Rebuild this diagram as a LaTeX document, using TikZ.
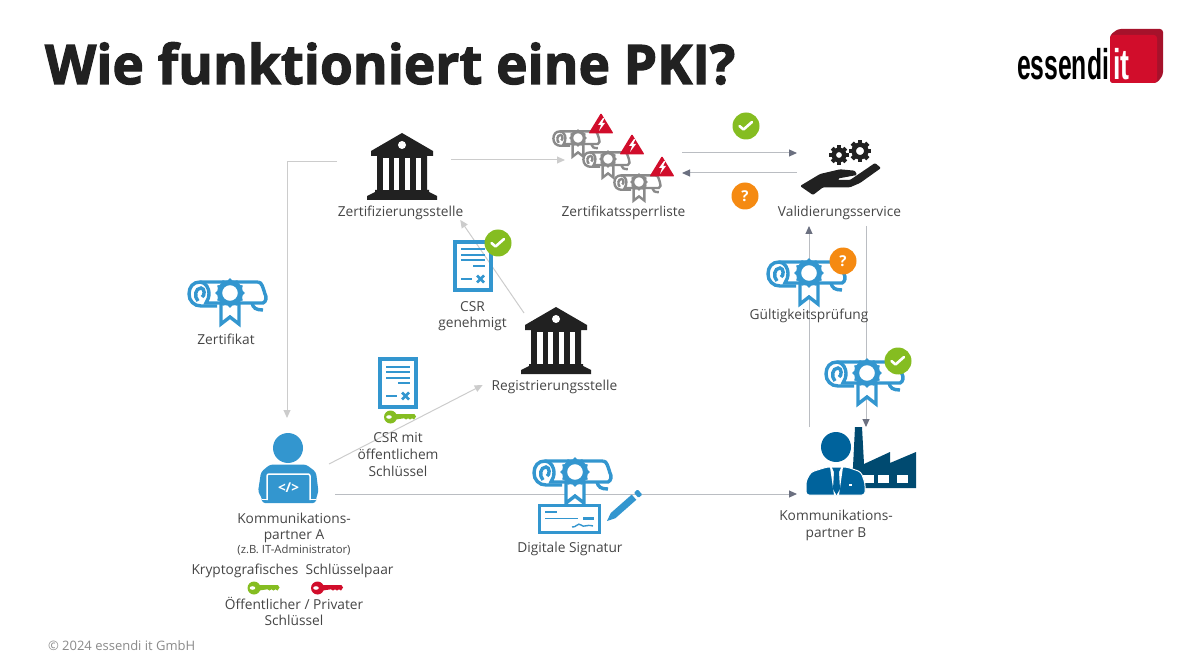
\documentclass[tikz,border=0pt]{standalone}
\usepackage{fontspec}
\setmainfont{Open Sans}
\newfontfamily\titlefont[FakeBold=2.2]{Open Sans Bold}
\newfontfamily\logofont{Liberation Sans}
\usepackage{tikz}
\usetikzlibrary{arrows.meta,backgrounds,positioning}
\usepackage{xcolor}
\definecolor{itblue}{rgb}{0.20, 0.59, 0.81}
\definecolor{bossblue}{rgb}{0.00, 0.39, 0.61}
\definecolor{plantblue}{rgb}{0.00, 0.29, 0.44}
\definecolor{okgreen}{rgb}{0.52, 0.74, 0.13}
\definecolor{askorange}{rgb}{0.96, 0.54, 0.07}
\definecolor{alertred}{rgb}{0.82, 0.05, 0.17}
\definecolor{darkred}{rgb}{0.65, 0.07, 0.17}
\definecolor{iconblack}{rgb}{0.13, 0.13, 0.13}
\definecolor{revokegrey}{rgb}{0.54, 0.54, 0.54}
\definecolor{textgrey}{rgb}{0.27, 0.27, 0.27}
\definecolor{linelight}{rgb}{0.80, 0.80, 0.80}
\definecolor{linemid}{rgb}{0.73, 0.74, 0.76}
\definecolor{tipdark}{rgb}{0.42, 0.44, 0.50}

\tikzset{
	holder/.style={inner sep=0pt,outer sep=0pt},
	caption/.style={inner sep=0pt,outer sep=0pt,text=textgrey,align=center,font=\fontsize{13.73}{16.6}\selectfont},
	badge/.style={circle,inner sep=0pt,minimum size=27pt,text=white,font=\fontsize{15}{15}\selectfont\bfseries},
	lightflow/.style={linelight,line width=1pt,-{Triangle[length=8pt,width=7pt]}},
	midflow/.style={linemid,line width=1pt,-{Triangle[length=8pt,width=7pt,color=tipdark]}},
	pics/scroll/.default=5.2pt,
	pics/scroll/.style={code={
		\draw (28,-11) -- (-30,-11) .. controls (-37,-11) and (-41,-6) .. (-41,1) .. controls (-41,8) and (-36,13) .. (-29,13) -- (-13,13);
		\draw (-30,-11) .. controls (-24,-11) and (-21,-4) .. (-21,0) .. controls (-21,4) and (-22,7) .. (-24,10) -- (33,10) .. controls (36,9) and (37,4) .. (35,1) .. controls (33,-5) and (32,-11) .. (28,-11);
		\draw (-32,8) .. controls (-36,4) and (-35,-5) .. (-29,-5) .. controls (-25,-5) and (-25,3) .. (-28,4);
		\draw (22,10) .. controls (23,15) and (26,17) .. (33,17);
		\filldraw[fill=white] (-9,10) -- (-9,31) -- (0,24) -- (9,31) -- (9,10) -- cycle;
		\foreach \a in {0,30,...,330} \fill[rotate=\a] (0,-13) circle (1.8);
		\filldraw[fill=white,line width=#1] (0,0) circle (10.5);
	}},
	pics/bank/.style={code={
		\fill[iconblack] (0,0) -- (31,18) -- (31,23) -- (25,23) -- (25,57) -- (27,57) -- (27,59) -- (35,63) -- (35,67) -- (-35,67) -- (-35,63) -- (-27,59) -- (-27,57) -- (-25,57) -- (-25,23) -- (-31,23) -- (-31,18) -- cycle;
		\foreach \g in {-19,-8.25,2.75,13.75} \fill[white] (\g,25) rectangle ++(5.5,32);
		\fill[white] (0,12) circle (4);
	}},
	pics/cert/.style={code={
		\draw[line width=3.5pt] (-18,-24) rectangle (18,24);
		\foreach \y in {-16.5,-11,-5.5} \draw[line width=2pt] (-12,\y) -- (12,\y);
		\draw[line width=2pt] (0,0) -- (12,0);
		\draw[line width=2pt] (-12,13) -- (-1,13);
		\draw[line width=2.6pt] (4,9.5) -- (11,16.5) (4,16.5) -- (11,9.5);
	}},
	pics/keyshape/.style={code={
		\fill (0,0) circle (6.5);
		\fill (3,-2.8) -- (24,-2.8) -- (25.5,-0.5) -- (23.5,2.5) -- (21.5,1.3) -- (19.5,2.5) -- (17.5,1.3) -- (15.5,2.5) -- (13.5,1.3) -- (3,2.8) -- cycle;
		\fill[white] (-1.5,0) ellipse (2.8 and 1.8);
	}},
	pics/warn/.style={code={
		\fill[alertred,rounded corners=1pt] (0,0) -- (12.5,20.5) -- (-12.5,20.5) -- cycle;
		\fill[white] (2,5) -- (-3,12) -- (0,12) -- (-2,18) -- (4,10) -- (1,10) -- (3.5,5) -- cycle;
	}},
	pics/tick/.style={code={
		\draw[white,line width=2.6pt,line cap=round,line join=round] (-6.5,0) -- (-2.5,3.5) -- (6,-4);
	}},
	pics/gear/.style={code={
		\foreach \a in {0,45,...,315} \fill[rotate=\a] (-2.3,-11) rectangle (2.3,-6);
		\draw[line width=4.6pt] (0,0) circle (6.3);
	}}
}

\begin{document}
\begin{tikzpicture}[x=1pt,y=-1pt]
	\useasboundingbox (0,0) rectangle (1192,671);

	% Title and footer
	\node[holder,anchor=base west,xscale=.972,transform shape,text=iconblack,font=\titlefont\fontsize{54.6}{60}\selectfont] (title) at (45,84) {Wie funktioniert eine PKI?};
	\node[holder,anchor=base west,text=revokegrey,font=\fontsize{13}{14}\selectfont] (copyright) at (48,650) {© 2024 essendi it GmbH};

	% Logo
	\fill[darkred,rounded corners=3pt] (1110,35) -- (1118,29) -- (1163,29) -- (1163,75) -- (1157,83) -- (1110,83) -- cycle;
	\fill[alertred,rounded corners=3pt] (1110,35) rectangle (1157,83);
	\node[holder,anchor=base west,xscale=.575,transform shape,text=black,font=\logofont\bfseries\fontsize{43}{43}\selectfont] (logoname) at (1017,80) {essendi};
	\node[holder,anchor=base west,xscale=.62,transform shape,text=white,font=\logofont\bfseries\fontsize{43}{43}\selectfont] (logoit) at (1113,80) {it};

	% Places the arrows run between
	\node[holder,minimum width=114pt,minimum height=80pt] (zs) at (394,161) {};
	\node[holder,minimum width=117pt,minimum height=60pt] (sl) at (623.5,163) {};
	\node[holder,minimum width=84pt,minimum height=126pt] (vs) at (839,163) {};
	\node[holder,minimum width=64pt,minimum height=54pt] (rs) at (556,340) {};
	\node[holder,minimum width=96pt,minimum height=76pt] (ka) at (287,456) {};
	\node[holder,minimum width=126pt,minimum height=67pt] (kb) at (860,460.5) {};

	% Captions
	\node[caption] (zslabel) at (400.5,213) {Zertifizierungsstelle};
	\node[caption] (sllabel) at (623.5,213) {Zertifikatssperrliste};
	\node[caption] (vslabel) at (839.5,213) {Validierungsservice};
	\node[caption] (certlabel) at (226,339) {Zertifikat};
	\node[caption] (oklabel) at (472.5,316) {CSR\\genehmigt};
	\node[caption] (rslabel) at (554.5,387) {Registrierungsstelle};
	\node[caption] (checklabel) at (809,316) {Gültigkeitsprüfung};
	\node[caption] (csrlabel) at (398,454.5) {CSR mit\\öffentlichem\\Schlüssel};
	\node[caption] (kalabel) at (294,528) {Kommunikations-\\partner A};
	\node[caption,font=\fontsize{11.3}{12}\selectfont] (adminlabel) at (294,550.5) {(z.B. IT-Administrator)};
	\node[caption] (pairlabel) at (292.5,570.5) {Kryptografisches\ \ Schlüsselpaar};
	\node[caption] (keylabel) at (294,611.5) {Öffentlicher / Privater\\Schlüssel};
	\node[caption] (siglabel) at (570,549) {Digitale Signatur};
	\node[caption] (kblabel) at (836,525.5) {Kommunikations-\\partner B};

	% Arrows
	\begin{scope}[on background layer]
		\draw[lightflow] ([yshift=-1pt]zs.west) -| (ka.north);
		\draw[lightflow] ([yshift=1pt]zs.east) -- ([yshift=3pt]sl.west);
		\draw[midflow] ([yshift=10pt]sl.east) -- ([yshift=10pt]vs.west);
		\draw[midflow] ([yshift=-10pt]vs.west) -- ([yshift=-10pt]sl.east);
		\draw[midflow] ([xshift=-51pt]kb.north) -- ([xshift=-30pt]vs.south);
		\draw[midflow] ([xshift=27pt]vs.south) -- ([xshift=6pt]kb.north);
		\draw[lightflow] (rs.north west) -- ([xshift=-3pt,yshift=0pt]zslabel.south east);
		\draw[lightflow] ([shift={(-6pt,-8pt)}]ka.east) -- ([xshift=-9pt,yshift=2pt]rslabel.west);
		\draw[midflow] (ka.south east) -- (kb.south west);
	\end{scope}

	% Authorities
	\pic at (402,133) {bank};
	\pic at (556,307) {bank};

	% Revocation list
	\pic[color=revokegrey,line width=2.4pt,scale=.6] at (578,138) {scroll=3.2pt};
	\pic at (601,113) {warn};
	\pic[color=revokegrey,line width=2.4pt,scale=.6] at (608,159) {scroll=3.2pt};
	\pic at (632,134) {warn};
	\pic[color=revokegrey,line width=2.4pt,scale=.6] at (639,182) {scroll=3.2pt};
	\pic at (662,156) {warn};

	% Validation hand
	\fill[iconblack,rounded corners=1.2pt] (800,186) -- (820,174) -- (840,169.3) -- (855,170.7) -- (857,175) -- (838,178.5) -- (838,180) -- (850,180) -- (875,163) -- (881,168) -- (860,183) -- (850,187.3) -- (823,187.3) -- (813,195) -- cycle;
	\pic[color=iconblack,scale=.87] at (839,155) {gear};
	\pic[color=iconblack] at (860,151) {gear};

	% Status badges
	\node[badge,fill=okgreen] (okflow) at (746,126) {};
	\pic at (okflow) {tick};
	\node[badge,fill=askorange] (askflow) at (745,196) {?};
	\pic[color=itblue] at (473,266) {cert};
	\node[badge,fill=okgreen] (okcsr) at (498,243) {};
	\pic at (okcsr) {tick};

	% Certificates
	\pic[color=itblue,line width=3.4pt] at (230,293) {scroll};
	\pic[color=itblue,line width=3.4pt] at (809,273) {scroll};
	\node[badge,fill=askorange] (askcert) at (843,261) {?};
	\pic[color=itblue,line width=3.4pt] at (867,373) {scroll};
	\node[badge,fill=okgreen] (okcert) at (898,361) {};
	\pic at (okcert) {tick};

	% Signing requests
	\pic[color=itblue] at (398,383) {cert};
	\pic[color=okgreen] at (390.5,417) {keyshape};
	\pic[color=okgreen] at (254,588) {keyshape};
	\pic[color=alertred] at (317.5,588) {keyshape};

	% Partner A
	\fill[itblue] (288,448) circle (15);
	\fill[itblue,rounded corners=3pt] (258,492) -- (261,472) -- (270,464.5) -- (306,464.5) -- (316,472) -- (318.5,492) -- (316,498) -- (316,503) -- (262,503) -- (262,498) -- cycle;
	\draw[white,line width=1.5pt,rounded corners=2pt] (267,500) -- (267,474) -- (310,474) -- (310,500);
	\draw[white,line width=1pt] (262,499.5) -- (267,499.5) (310,499.5) -- (316,499.5);
	\node[holder,text=white,font=\fontsize{13.5}{14}\selectfont\bfseries] (code) at (288.5,488) {</>};

	% Partner B with plant
	\fill[plantblue] (855,427) -- (862,427) -- (864,464) -- (890,452) -- (890,463) -- (916,452) -- (916,488) -- (850,488) -- (853,467) -- cycle;
	\foreach \w in {863,878,897} \fill[white] (\w,475) rectangle ++(11,8);
	\filldraw[fill=bossblue,draw=white,line width=1pt,rounded corners=3pt] (806,495) -- (806,481) -- (811,472) -- (827,467) -- (847,467) -- (861,472) -- (865,483) -- (865,495) -- cycle;
	\fill[bossblue] (836,447) circle (15);
	\fill[white] (830,467) -- (843,467) -- (839,495) -- (834,495) -- cycle;
	\fill[bossblue] (832,467.5) -- (841,467.5) -- (839,472) -- (840,489) -- (836.5,495) -- (833,489) -- (834,472) -- cycle;
	\fill[white] (849,484) rectangle ++(3,2);

	% Signature
	\pic[color=itblue,line width=3.4pt] at (575,472) {scroll};
	\filldraw[color=itblue,fill=white,line width=3pt] (539,505) rectangle (599,532);
	\draw[itblue,line width=1.6pt] (545,512) -- (557,512) (545,518.5) -- (578,518.5);
	\draw[itblue,line width=3pt] (583,518) -- (594,518);
	\draw[itblue,line width=1.4pt] (572,527) .. controls (576,528) and (578,522) .. (581,525) .. controls (584,528) and (586,524) .. (593,526);
	\fill[itblue] (607,521) -- (610.7,513.1) -- (631.7,494.6) -- (636.3,499.8) -- (615.3,518.3) -- cycle;
	\fill[itblue,rounded corners=1pt] (633.9,492.7) -- (637.7,489.4) -- (642.3,494.6) -- (638.5,497.9) -- cycle;
\end{tikzpicture}
\end{document}
